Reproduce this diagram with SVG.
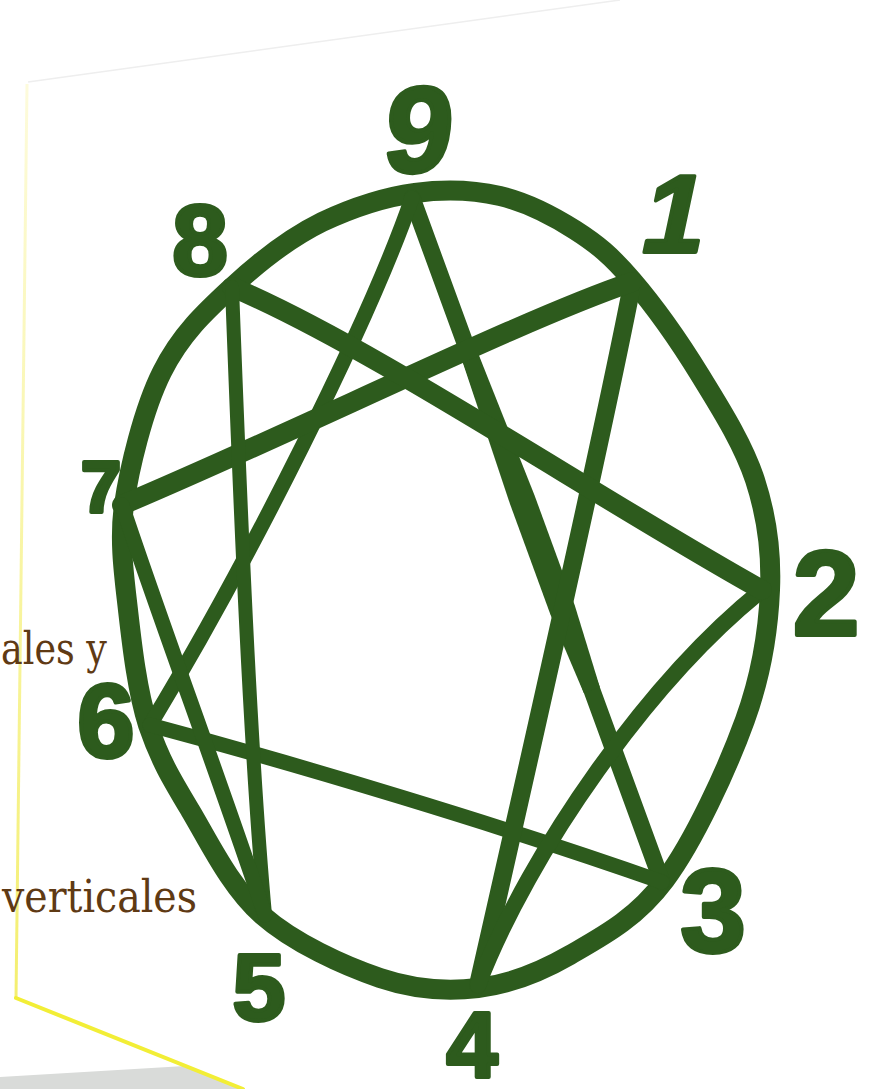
<svg xmlns="http://www.w3.org/2000/svg" width="892" height="1089" viewBox="0 0 892 1089">
<defs>
<style>
.ring{fill:none;stroke:#2d5b1d;stroke-width:20;stroke-linejoin:round;stroke-linecap:round}
.ln{fill:none;stroke:#2d5b1d;stroke-linejoin:round;stroke-linecap:round}
.num{font-family:"Liberation Sans",Arial,sans-serif;font-weight:bold;fill:#2d5b1d;stroke:#2d5b1d;stroke-width:4;stroke-linejoin:round;text-anchor:middle}
.txt{font-family:"DejaVu Serif",serif;font-size:44px;fill:#5f3a14;text-anchor:start}
</style>
<linearGradient id="edge" x1="0" y1="0" x2="0" y2="1">
<stop offset="0" stop-color="#fdfbdc"/>
<stop offset="1" stop-color="#f4ef70"/>
</linearGradient>
</defs>
<rect width="892" height="1089" fill="#ffffff"/>
<g id="page">
<polygon points="0,1077 185,1066 243,1089 0,1089" fill="#d9dbd9"/>
<line x1="28" y1="82" x2="620" y2="0" stroke="#eeeeee" stroke-width="1.5"/>
<path d="M27,84 L16,998" stroke="url(#edge)" stroke-width="3" fill="none"/>
<path d="M16,998 L243,1089" stroke="#f2ee36" stroke-width="4" fill="none" stroke-linecap="round"/>
</g>
<g id="texts">
<text class="txt" x="1" y="664" textLength="106" lengthAdjust="spacingAndGlyphs">ales y</text>
<text class="txt" x="2" y="912" textLength="195" lengthAdjust="spacingAndGlyphs">verticales</text>
</g>
<g id="connectors">
<path id="ring" class="ring" d="M415,193 C445,189 473.3,190 500,196 C526.7,202.3 553,216 575,230 C597,244 611.2,255.8 632,280 C652.8,304.2 679.5,341.7 700,375 C720.5,408.3 743.3,444.2 755,480 C766.7,515.8 771.7,550 770,590 C768.3,630 762.5,671.7 745,720 C727.5,768.3 694.2,840.8 665,880 C635.8,919.2 601.2,937 570,955 C538.8,973 509.7,984.2 478,988 C446.3,991.8 416,990.2 380,978 C344,965.8 293.7,943 262,915 C230.3,887 209,841.7 190,810 C171,778.3 160,760 148,725 C137,690 132,645 128,610 C124,575 119,540 124,505 C129,470 143,410 162,372 C181,334 205.3,311.7 232,287 C258.7,262.3 289.5,238 322,222 C354,207 385,197 415,193 Z"/>
<path id="e9-3" class="ln" stroke-width="17" d="M412,198 L662,882"/>
<polygon id="e9-3b" fill="#2d5b1d" points="475.6,347.1 534.6,495.5 574.8,605.5 599.8,687.1 583.8,692.9 550.4,614.5 510.2,504.5 459.6,352.9"/>
<path id="e9-6" class="ln" stroke-width="15" d="M412,198 C370,320 250,560 150,725"/>
<path id="e6-3" class="ln" stroke-width="15" d="M150,725 C300,765 500,825 662,882"/>
<path id="e1-4" class="ln" stroke-width="18" d="M632,285 C600,450 520,800 478,985"/>
<path id="e4-2" class="ln" stroke-width="16" d="M478,985 C530,850 650,680 762,590"/>
<path id="e1-7" class="ln" stroke-width="20" d="M632,282 C520,320 300,430 122,505"/>
<path id="e8-2" class="ln" stroke-width="20" d="M232,287 C370,345 600,500 762,590"/>
<path id="e8-5" class="ln" stroke-width="14" d="M232,287 C240,500 250,750 265,915"/>
<path id="e5-7" class="ln" stroke-width="15" d="M265,915 C220,780 160,620 122,505"/>
</g>
<g id="n9"><text class="num" font-size="122" transform="translate(415,172) skewX(-6)">9</text></g>
<g id="n1"><text class="num" font-size="110" transform="translate(668,252) skewX(-12)">1</text></g>
<g id="n2"><text class="num" font-size="120" transform="translate(826,635)">2</text></g>
<g id="n3"><text class="num" font-size="118" transform="translate(713,952)">3</text></g>
<g id="n4"><text class="num" font-size="92" transform="translate(472,1077)">4</text></g>
<g id="n5"><text class="num" font-size="95" transform="translate(259,1020)">5</text></g>
<g id="n6"><text class="num" font-size="103" transform="translate(106,757)">6</text></g>
<g id="n7"><text class="num" font-size="72" transform="translate(101,512)">7</text></g>
<g id="n8"><text class="num" font-size="100" transform="translate(200,275)">8</text></g>
</svg>
